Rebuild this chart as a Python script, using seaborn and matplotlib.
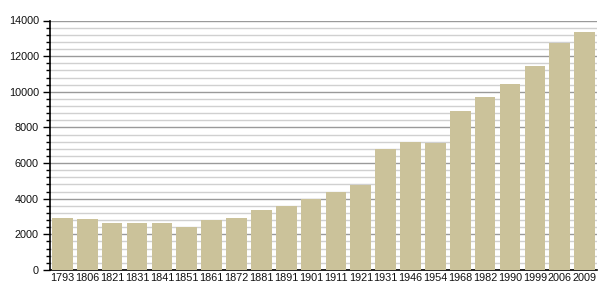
import matplotlib
matplotlib.use("Agg")
import matplotlib.pyplot as plt
import seaborn as sns
import pandas as pd
from matplotlib.ticker import MultipleLocator

years = ["1793", "1806", "1821", "1831", "1841", "1851", "1861", "1872", "1881", "1891",
         "1901", "1911", "1921", "1931", "1946", "1954", "1968", "1982", "1990", "1999",
         "2006", "2009"]
population = [2900, 2880, 2660, 2660, 2660, 2420, 2790, 2920, 3370, 3600,
              3990, 4350, 4780, 6800, 7180, 7140, 8940, 9720, 10455, 11470,
              12720, 13380]

sns.set_theme(style="white")
plt.rcParams['font.family'] = ['Liberation Sans', 'DejaVu Sans']

df = pd.DataFrame({"year": years, "pop": population})

fig = plt.figure(figsize=(6.05, 3.0), dpi=100)
ax = fig.add_axes([50/605, 30/300, 547/605, 249.5/300])

sns.barplot(data=df, x="year", y="pop", color="#CBC29A", saturation=1, width=0.83,
            linewidth=0, edgecolor="none", ax=ax, zorder=3)

ax.set_ylim(0, 14000)
ax.set_xlim(-0.5, len(years) - 0.5)
ax.yaxis.set_major_locator(MultipleLocator(2000))
ax.yaxis.set_minor_locator(MultipleLocator(400))
ax.grid(which="major", axis="y", color="#9a9a9a", linewidth=1.0, zorder=0)
ax.grid(which="minor", axis="y", color="#d0d0d0", linewidth=1.0, zorder=0)
ax.set_axisbelow(True)

for s in ["top", "right"]:
    ax.spines[s].set_visible(False)
for s in ["left", "bottom"]:
    ax.spines[s].set_color("black")
    ax.spines[s].set_linewidth(1.2)

ax.tick_params(axis="y", which="major", length=5, width=1, color="black", labelsize=7.8,
               labelcolor="#111111", pad=3, left=True)
ax.tick_params(axis="y", which="minor", length=3, width=1, color="black", left=True)
ax.tick_params(axis="x", length=0, labelsize=7.8, labelcolor="#111111", pad=2)
ax.set_xlabel("")
ax.set_ylabel("")

fig.savefig("out.png", dpi=100)
